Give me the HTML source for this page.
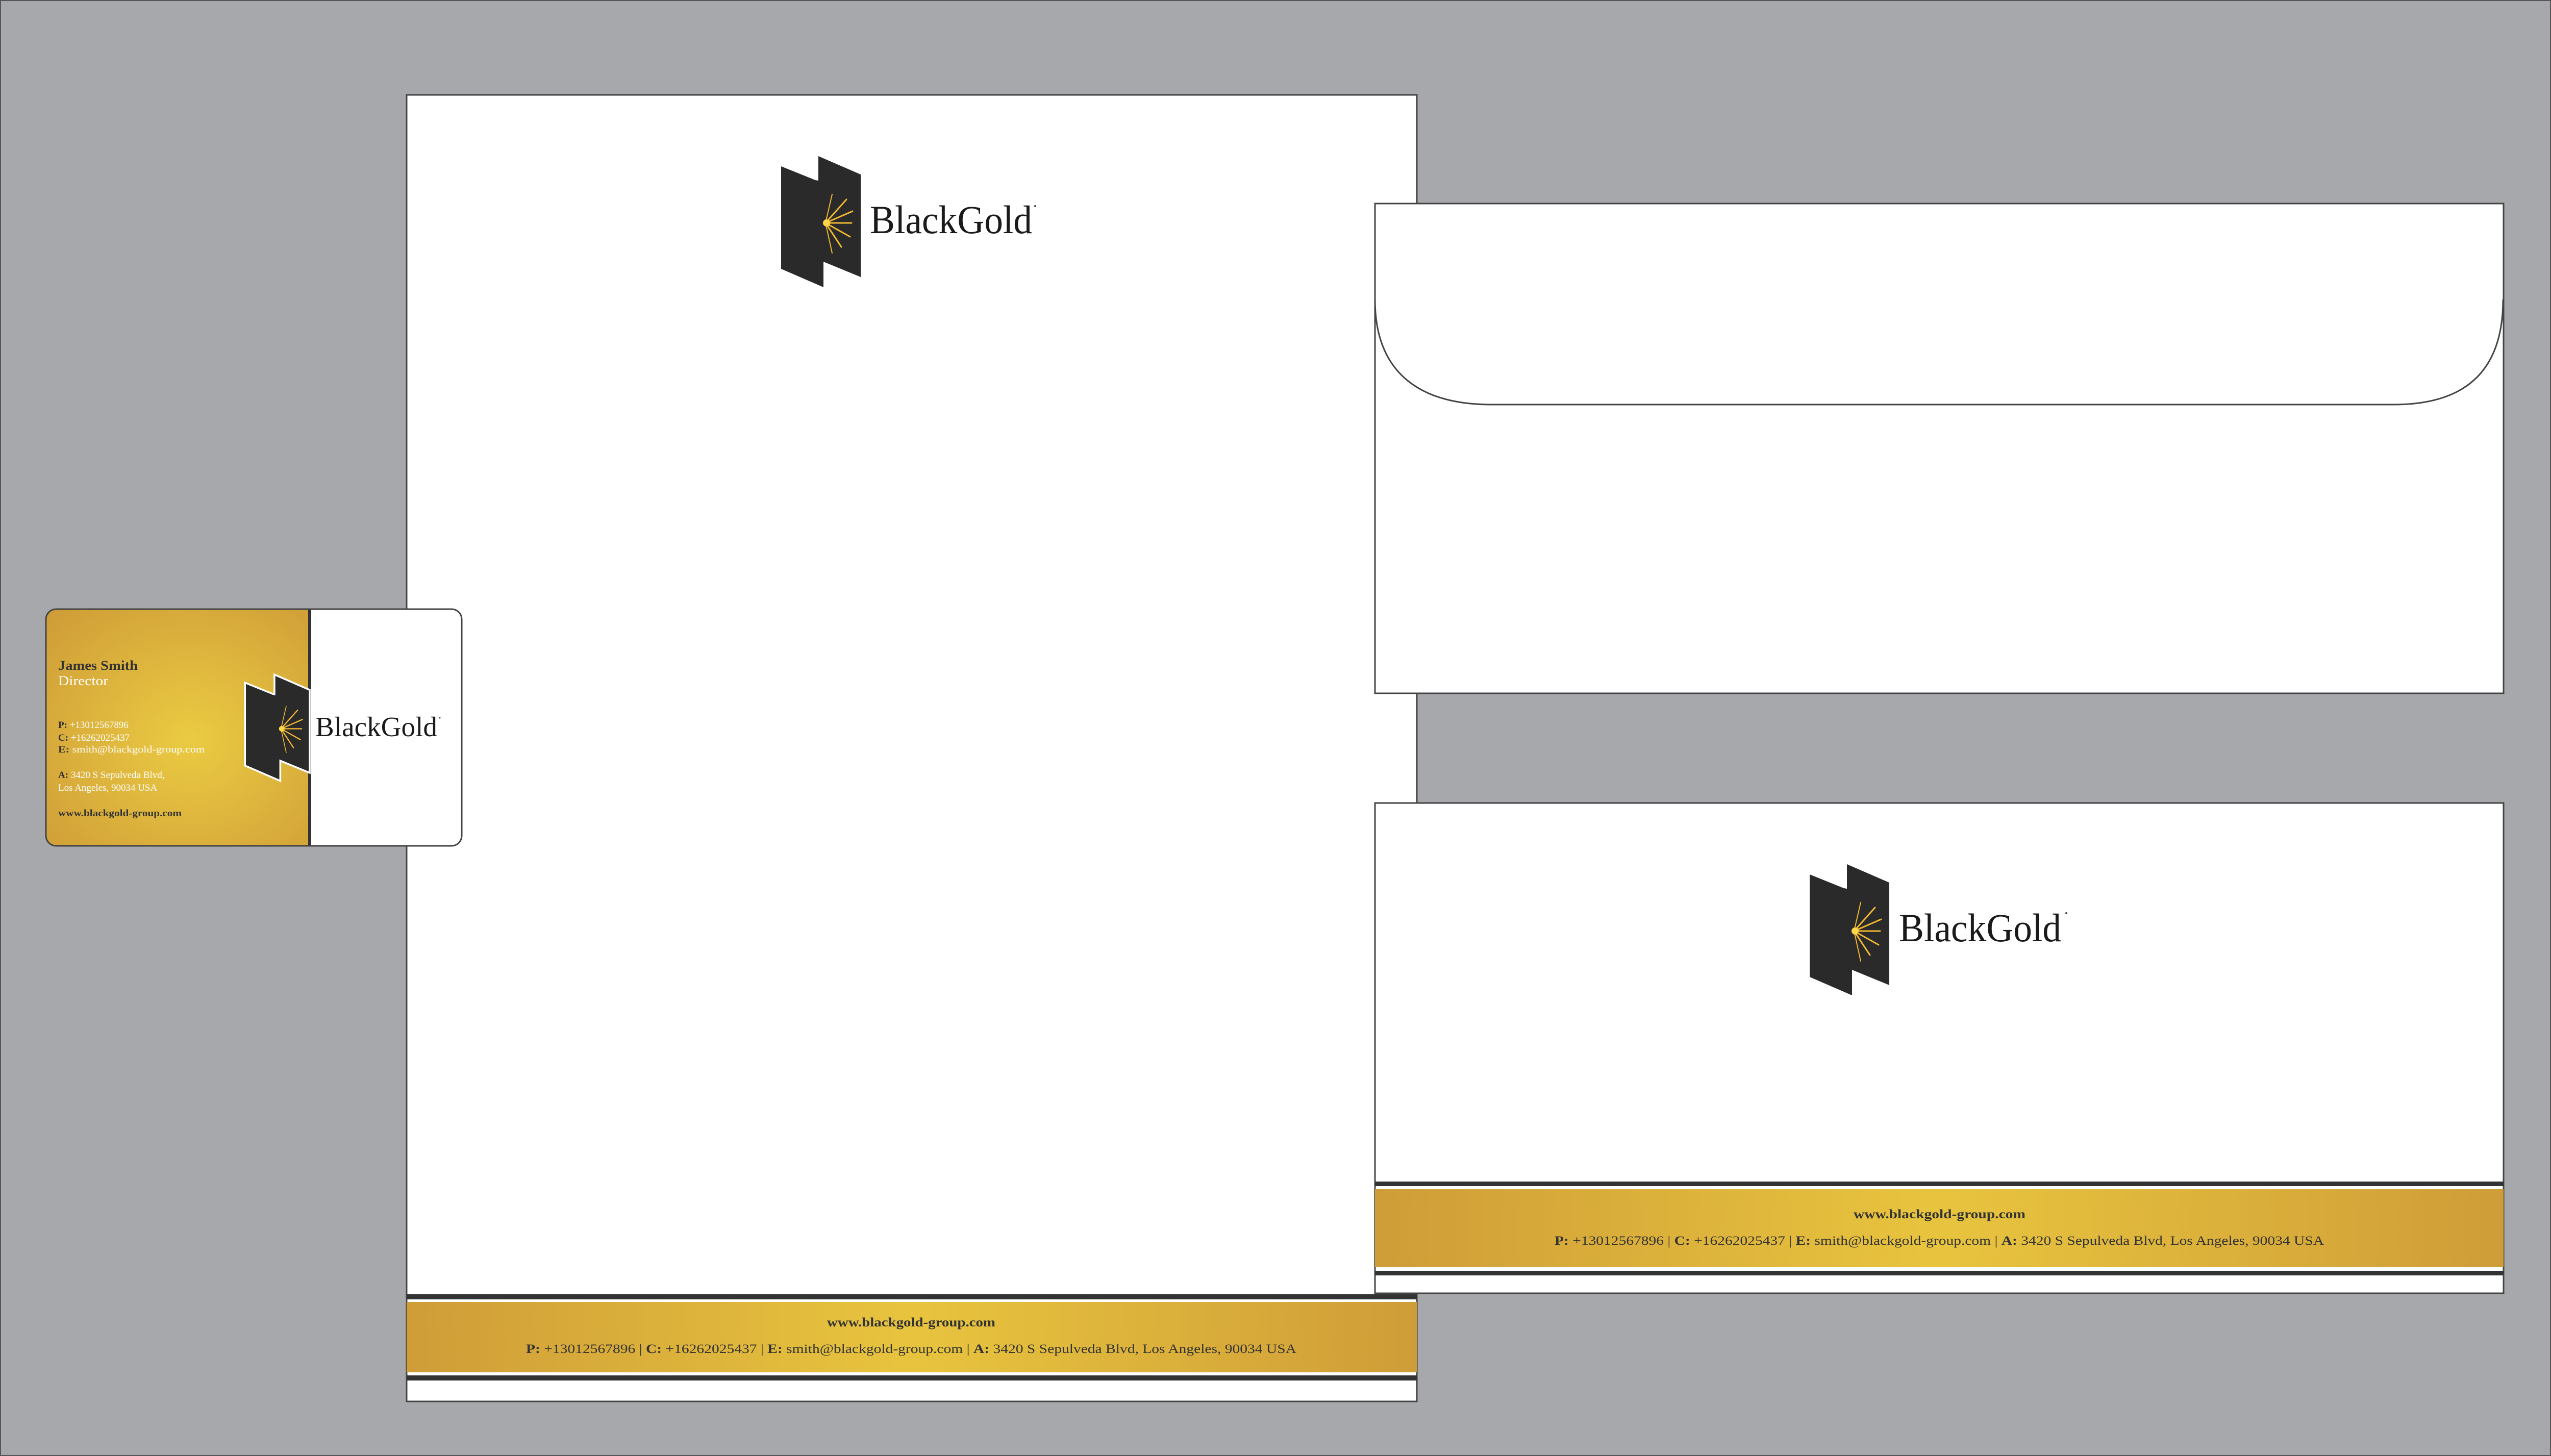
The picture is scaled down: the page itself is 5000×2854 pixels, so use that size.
<!DOCTYPE html>
<html><head><meta charset="utf-8"><style>html,body{margin:0;padding:0;background:#a7a8ab}svg{display:block}</style></head>
<body>
<svg xmlns="http://www.w3.org/2000/svg" width="5000" height="2854" viewBox="0 0 5000 2854" font-family="'Liberation Serif', serif">
<defs>
<linearGradient id="gh" x1="0" x2="1" y1="0" y2="0">
<stop offset="0" stop-color="#cf9d38"/><stop offset="0.5" stop-color="#e8c43e"/><stop offset="1" stop-color="#cf9d38"/>
</linearGradient>
<radialGradient id="gr" cx="0.55" cy="0.55" r="0.75">
<stop offset="0" stop-color="#ebcb42"/><stop offset="1" stop-color="#cf9d38"/>
</radialGradient>
<radialGradient id="star" cx="0" cy="0.5" r="1">
<stop offset="0" stop-color="#ffd54a"/><stop offset="1" stop-color="#c88a20" stop-opacity="0"/>
</radialGradient>
<g id="mark">
<polygon points="0,20 67,47 73,48 73,0 156,36 156,237 83,207 83,257 0,221" fill="#2b2a2b"/>
<g stroke="#f0b830" stroke-linecap="round">
<line x1="87" y1="131" x2="128" y2="85" stroke-width="3"/>
<line x1="87" y1="131" x2="140" y2="108" stroke-width="3"/>
<line x1="87" y1="131" x2="138" y2="131" stroke-width="3"/>
<line x1="87" y1="131" x2="135" y2="158" stroke-width="3"/>
<line x1="87" y1="131" x2="118" y2="178" stroke-width="3"/>
<line x1="87" y1="131" x2="100" y2="190" stroke-width="2"/>
<line x1="87" y1="131" x2="100" y2="75" stroke-width="2"/>
<circle cx="89" cy="131" r="7" fill="#ffd54a" stroke="none"/>
</g>
</g>
</defs>
<rect x="0" y="0" width="5000" height="2854" fill="#a7a8ab" stroke="#555" stroke-width="4"/>

<!-- Letterhead -->
<rect x="797" y="186" width="1980" height="2561" fill="#fff" stroke="#444" stroke-width="3"/>
<use href="#mark" x="1531" y="306"/>
<text x="1705" y="457" font-size="78" fill="#1a1a1a" textLength="318" lengthAdjust="spacingAndGlyphs">BlackGold</text>
<circle cx="2029" cy="404" r="2" fill="#444"/>
<rect x="797" y="2537" width="1980" height="10" fill="#333"/>
<rect x="797" y="2552" width="1980" height="138" fill="url(#gh)"/>
<rect x="797" y="2696" width="1980" height="10" fill="#333"/>
<text x="1621" y="2600" font-size="25" font-weight="bold" fill="#333" textLength="330" lengthAdjust="spacingAndGlyphs">www.blackgold-group.com</text>
<text x="1031" y="2652" font-size="25" fill="#333" textLength="1510" lengthAdjust="spacingAndGlyphs"><tspan font-weight="bold">P:</tspan> +13012567896 | <tspan font-weight="bold">C:</tspan> +16262025437 | <tspan font-weight="bold">E:</tspan> smith@blackgold-group.com | <tspan font-weight="bold">A:</tspan> 3420 S Sepulveda Blvd, Los Angeles, 90034 USA</text>

<!-- Envelope back -->
<rect x="2695" y="399" width="2212" height="960" fill="#fff" stroke="#444" stroke-width="3"/>
<path d="M2695 587 C2695 720 2770 793 2924 793 L4692 793 C4840 793 4906 720 4906 587" fill="none" stroke="#444" stroke-width="3"/>

<!-- Envelope front -->
<rect x="2695" y="1574" width="2212" height="961" fill="#fff" stroke="#444" stroke-width="3"/>
<use href="#mark" x="3547" y="1694"/>
<text x="3722" y="1845" font-size="78" fill="#1a1a1a" textLength="318" lengthAdjust="spacingAndGlyphs">BlackGold</text>
<circle cx="4050" cy="1790" r="2" fill="#444"/>
<rect x="2695" y="2316" width="2212" height="9" fill="#333"/>
<rect x="2695" y="2331" width="2212" height="153" fill="url(#gh)"/>
<rect x="2695" y="2491" width="2212" height="9" fill="#333"/>
<text x="3633" y="2388" font-size="25" font-weight="bold" fill="#333" textLength="337" lengthAdjust="spacingAndGlyphs">www.blackgold-group.com</text>
<text x="3047" y="2440" font-size="25" fill="#333" textLength="1508" lengthAdjust="spacingAndGlyphs"><tspan font-weight="bold">P:</tspan> +13012567896 | <tspan font-weight="bold">C:</tspan> +16262025437 | <tspan font-weight="bold">E:</tspan> smith@blackgold-group.com | <tspan font-weight="bold">A:</tspan> 3420 S Sepulveda Blvd, Los Angeles, 90034 USA</text>

<!-- Business card -->
<clipPath id="cc"><rect x="90" y="1194" width="815" height="464" rx="20"/></clipPath>
<g clip-path="url(#cc)">
<rect x="90" y="1194" width="815" height="464" fill="#fff"/>
<rect x="90" y="1194" width="516" height="464" fill="url(#gr)"/>
<rect x="604" y="1194" width="6" height="464" fill="#333"/>
</g>
<rect x="90" y="1194" width="815" height="464" rx="20" fill="none" stroke="#444" stroke-width="3"/>
<g transform="translate(482 1325) scale(0.79 0.79)">
<polygon points="0,20 67,47 73,48 73,0 156,36 156,237 83,207 83,257 0,221" fill="none" stroke="#fff" stroke-width="9"/>
<use href="#mark"/>
</g>
<text x="618" y="1443" font-size="55" fill="#1a1a1a" textLength="239" lengthAdjust="spacingAndGlyphs">BlackGold</text>
<circle cx="862" cy="1407" r="1.5" fill="#444"/>
<text x="114" y="1313" font-size="26" font-weight="bold" fill="#333" textLength="156" lengthAdjust="spacingAndGlyphs">James Smith</text>
<text x="114" y="1343" font-size="26" fill="#fff" textLength="98" lengthAdjust="spacingAndGlyphs">Director</text>
<g font-size="19" fill="#fff">
<text x="114" y="1427"><tspan font-weight="bold" fill="#333">P:</tspan> +13012567896</text>
<text x="114" y="1452"><tspan font-weight="bold" fill="#333">C:</tspan> +16262025437</text>
<text x="114" y="1475" textLength="287" lengthAdjust="spacingAndGlyphs"><tspan font-weight="bold" fill="#333">E:</tspan> smith@blackgold-group.com</text>
<text x="114" y="1525"><tspan font-weight="bold" fill="#333">A:</tspan> 3420 S Sepulveda Blvd,</text>
<text x="114" y="1550">Los Angeles, 90034 USA</text>
<text x="114" y="1600" font-weight="bold" fill="#333" textLength="242" lengthAdjust="spacingAndGlyphs">www.blackgold-group.com</text>
</g>
</svg>
</body></html>
